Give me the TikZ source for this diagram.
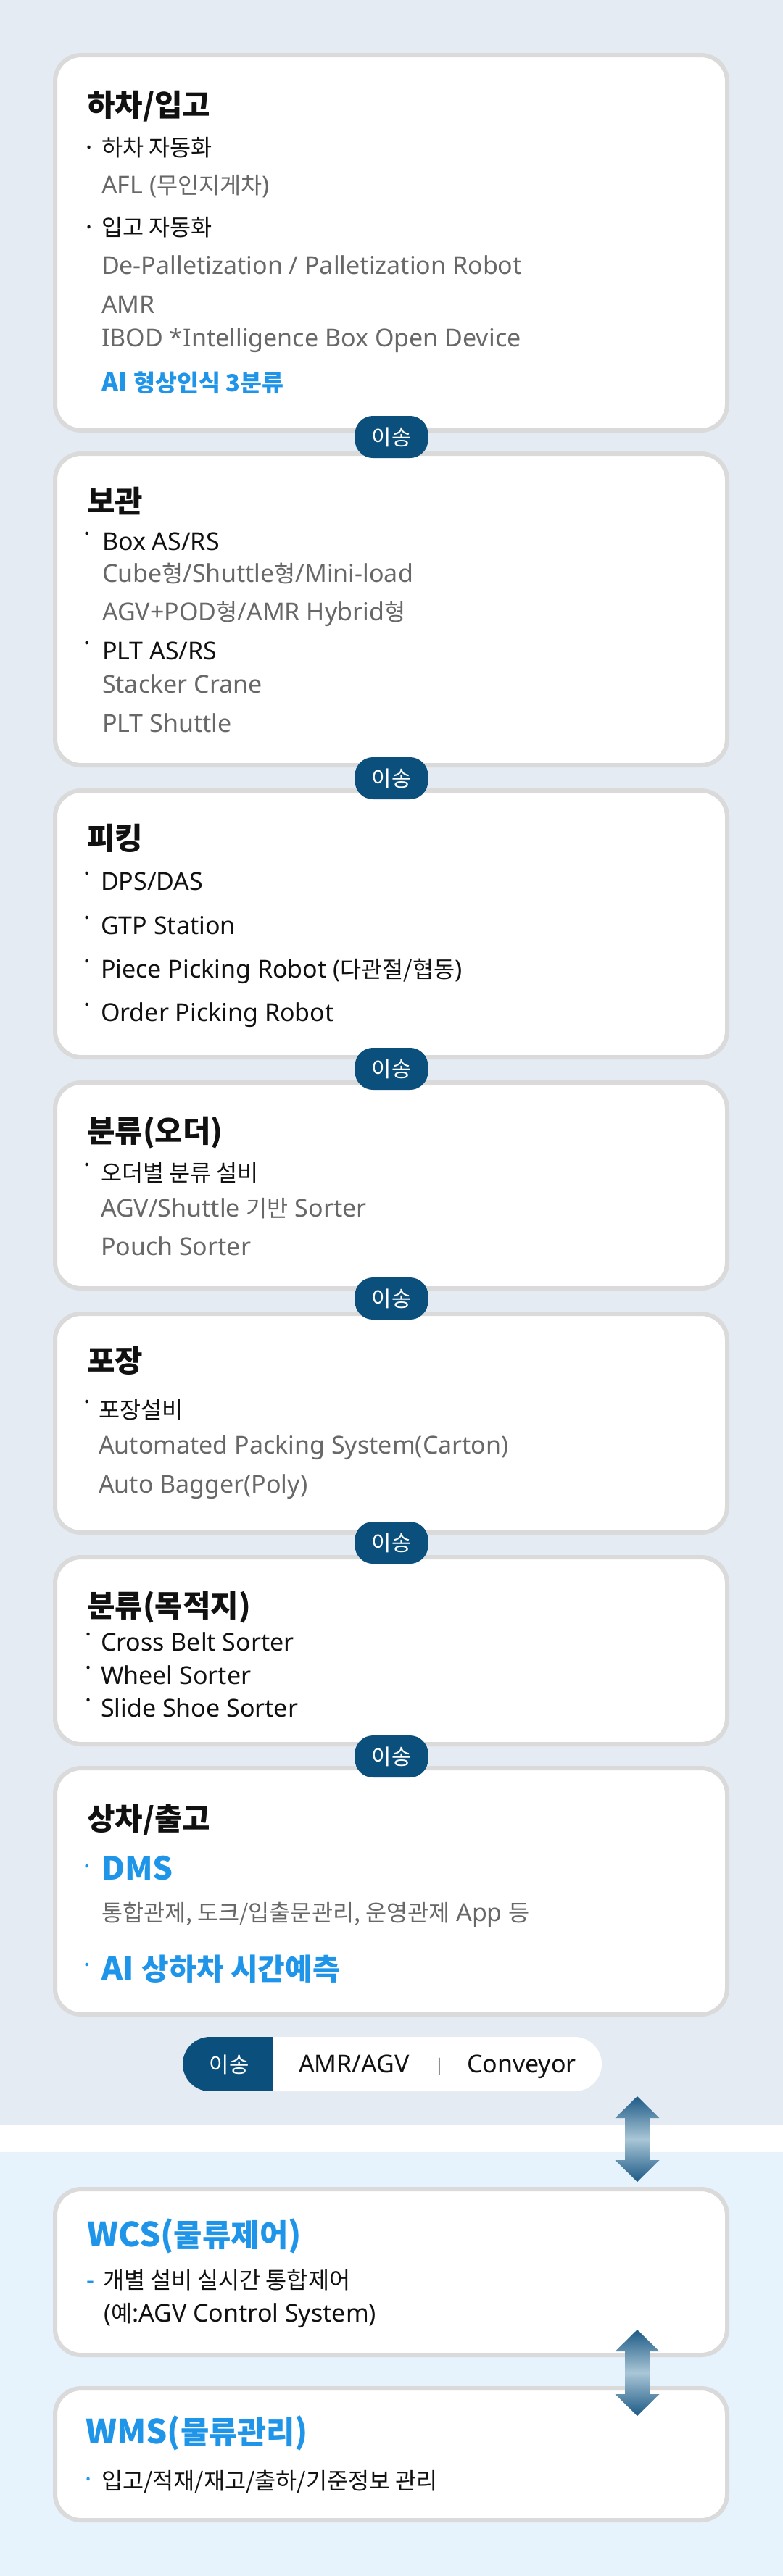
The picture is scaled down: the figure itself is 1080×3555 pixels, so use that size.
\documentclass[tikz,border=0pt]{standalone}
\usepackage{fontspec}
\setmainfont{Noto Sans}
\newfontfamily\kr{Noto Sans CJK KR}[Scale=0.93]
\newfontfamily\krB{Noto Sans CJK KR}
\newcommand\K[1]{{\kr #1}}
\newcommand\B[1]{{\krB #1}}
\definecolor{bgtop}{HTML}{E4EBF2}
\definecolor{bgbot}{HTML}{E6F2FC}
\definecolor{cardline}{HTML}{DADADA}
\definecolor{pillblue}{HTML}{0B4F7D}
\definecolor{txtgray}{HTML}{686868}
\definecolor{txtblue}{HTML}{1E95E8}
\definecolor{txtblack}{HTML}{111111}
\definecolor{ardark}{HTML}{1D5A86}
\definecolor{arlight}{HTML}{A9C6D6}
\begin{document}
\begin{tikzpicture}[
  x=0.5pt, y=-0.5pt,
  card/.style={draw=cardline, line width=3pt, fill=white, rounded corners=18pt},
  t/.style={inner sep=0pt, outer sep=0pt, anchor=base west, text=txtblack},
  ttl/.style={t, font=\fontsize{22.5}{27}\selectfont\bfseries},
  bod/.style={t, font=\fontsize{17}{20}\selectfont},
  gry/.style={bod, text=txtgray},
  blb/.style={t, text=txtblue, font=\fontsize{17.5}{20}\selectfont\bfseries},
  bigb/.style={t, text=txtblue, font=\fontsize{22}{27}\selectfont\bfseries},
  wt/.style={t, text=txtblue, font=\fontsize{23}{28}\selectfont\bfseries},
  bul/.style={inner sep=0pt, outer sep=0pt, anchor=base, text=txtblack, font=\fontsize{17}{20}\selectfont},
  rb/.style={yshift=5.5pt},
  pill/.style={fill=pillblue, text=white, rounded corners=12.5pt, minimum width=50.5pt, minimum height=29pt, inner sep=0pt, font=\fontsize{16}{20}\selectfont},
  arrowfill/.style={top color=ardark, bottom color=ardark, middle color=arlight}
]
\useasboundingbox (0,0) rectangle (1080,3555);
% backgrounds
\fill[bgtop] (0,0) rectangle (1080,2933);
\fill[white] (0,2933) rectangle (1080,2970);
\fill[bgbot] (0,2970) rectangle (1080,3555);

% cards
\draw[card] (76,76) rectangle (1003,594);
\draw[card] (76,626) rectangle (1003,1056);
\draw[card] (76,1091) rectangle (1003,1459);
\draw[card] (76,1494) rectangle (1003,1778);
\draw[card] (76,1813) rectangle (1003,2115);
\draw[card] (76,2149) rectangle (1003,2407);
\draw[card] (76,2440) rectangle (1003,2780);
\draw[card] (76,3021) rectangle (1003,3250);
\draw[card] (76,3296) rectangle (1003,3478);

% card 1
\node[ttl] (t1) at (120,160) {\K{하차/입고}};
\node[bul] (b11) at (123,215) {·};
\node[bod] (i11) at (140,215) {\K{하차 자동화}};
\node[gry] (i12) at (140,267) {AFL (\K{무인지게차})};
\node[bul] (b12) at (123,325) {·};
\node[bod] (i13) at (140,325) {\K{입고 자동화}};
\node[gry] (i14) at (140,378) {De-Palletization / Palletization Robot};
\node[gry] (i15) at (140,432) {AMR};
\node[gry] (i16) at (140,478) {IBOD *Intelligence Box Open Device};
\node[blb] (i17) at (140,540) {\B{AI} \K{형상인식 3분류}};

% card 2
\node[ttl] (t2) at (120,707) {\K{보관}};
\node[bul,rb] (b21) at (120,759) {·};
\node[bod] (i21) at (141,759) {Box AS/RS};
\node[gry] (i22) at (141,803) {Cube\K{형}/Shuttle\K{형}/Mini-load};
\node[gry] (i23) at (141,856) {AGV+POD\K{형}/AMR Hybrid\K{형}};
\node[bul,rb] (b22) at (120,910) {·};
\node[bod] (i24) at (141,910) {PLT AS/RS};
\node[gry] (i25) at (141,956) {Stacker Crane};
\node[gry] (i26) at (141,1010) {PLT Shuttle};

% card 3
\node[ttl] (t3) at (120,1172) {\K{피킹}};
\node[bul,rb] (b31) at (120,1228) {·};
\node[bod] (i31) at (139,1228) {DPS/DAS};
\node[bul,rb] (b32) at (120,1289) {·};
\node[bod] (i32) at (139,1289) {GTP Station};
\node[bul,rb] (b33) at (120,1349) {·};
\node[bod] (i33) at (139,1349) {Piece Picking Robot (\K{다관절/협동})};
\node[bul,rb] (b34) at (120,1409) {·};
\node[bod] (i34) at (139,1409) {Order Picking Robot};

% card 4
\node[ttl] (t4) at (120,1576) {\K{분류(오더)}};
\node[bul,rb] (b41) at (120,1630) {·};
\node[bod] (i41) at (139,1630) {\K{오더별 분류 설비}};
\node[gry] (i42) at (139,1679) {AGV/Shuttle \K{기반} Sorter};
\node[gry] (i43) at (139,1732) {Pouch Sorter};

% card 5
\node[ttl] (t5) at (120,1893) {\K{포장}};
\node[bul,rb] (b51) at (120,1957) {·};
\node[bod] (i51) at (136,1957) {\K{포장설비}};
\node[gry] (i52) at (136,2006) {Automated Packing System(Carton)};
\node[gry] (i53) at (136,2060) {Auto Bagger(Poly)};

% card 6
\node[ttl] (t6) at (120,2231) {\K{분류(목적지)}};
\node[bul,rb] (b61) at (122,2278) {·};
\node[bod] (i61) at (139,2278) {Cross Belt Sorter};
\node[bul,rb] (b62) at (122,2324) {·};
\node[bod] (i62) at (139,2324) {Wheel Sorter};
\node[bul,rb] (b63) at (122,2369) {·};
\node[bod] (i63) at (139,2369) {Slide Shoe Sorter};

% card 7
\node[ttl] (t7) at (120,2525) {\K{상차/출고}};
\node[bul,text=txtblue,yshift=3.5pt] (b71) at (120,2594) {·};
\node[bigb] (i71) at (140,2594) {\B{DMS}};
\node[gry] (i72) at (140,2651) {\K{통합관제, 도크/입출문관리, 운영관제} App \K{등}};
\node[bul,text=txtblue,yshift=4.5pt] (b72) at (120,2732) {·};
\node[bigb] (i73) at (140,2732) {\B{AI} \K{상하차 시간예측}};

% transfer pills
\node[pill] (p1) at (540,603) {\K{이송}};
\node[pill] (p2) at (540,1074) {\K{이송}};
\node[pill] (p3) at (540,1475) {\K{이송}};
\node[pill] (p4) at (540,1792) {\K{이송}};
\node[pill] (p5) at (540,2129) {\K{이송}};
\node[pill] (p6) at (540,2424) {\K{이송}};

% legend
\node[fill=white, rounded corners=18.75pt, minimum width=289pt, minimum height=37.5pt, inner sep=0pt] (lgd) at (541,2848.5) {};
\begin{scope}
  \clip[rounded corners=18.75pt] (252,2811) rectangle (830,2886);
  \fill[pillblue] (252,2811) rectangle (377,2886);
\end{scope}
\node[inner sep=0pt, anchor=base, text=white, font=\fontsize{16}{20}\selectfont] (lg1) at (316,2860) {\K{이송}};
\node[bod] (lg2) at (412,2860) {AMR/AGV};
\node[inner sep=0pt, anchor=base, text=txtgray, font=\fontsize{12}{14}\selectfont] (lg3) at (606,2858) {|};
\node[bod] (lg4) at (644,2860) {Conveyor};

% double arrows
\shade[arrowfill] (879,2893) -- (909.5,2923) -- (896,2923) -- (896,2981) -- (909.5,2981) -- (879,3011) -- (848.5,2981) -- (862,2981) -- (862,2923) -- (848.5,2923) -- cycle;
\shade[arrowfill] (879,3215) -- (909.5,3245) -- (896,3245) -- (896,3304) -- (909.5,3304) -- (879,3334) -- (848.5,3304) -- (862,3304) -- (862,3245) -- (848.5,3245) -- cycle;

% WCS
\node[wt] (wcs) at (120,3100) {\B{WCS(}\K{물류제어}\B{)}};
\node[t, text=txtblue, font=\fontsize{17}{20}\selectfont] (wd) at (119,3158) {-};
\node[bod] (w1) at (142,3158) {\K{개별 설비 실시간 통합제어}};
\node[bod] (w2) at (143,3204) {(\K{예}:AGV Control System)};

% WMS
\node[wt] (wms) at (118,3372) {\B{WMS(}\K{물류관리}\B{)}};
\node[bul,text=txtblue,font=\fontsize{17}{20}\selectfont\bfseries,yshift=1pt] (mb) at (122,3435) {·};
\node[bod] (m1) at (140,3435) {\K{입고/적재/재고/출하/기준정보 관리}};
\end{tikzpicture}
\end{document}
